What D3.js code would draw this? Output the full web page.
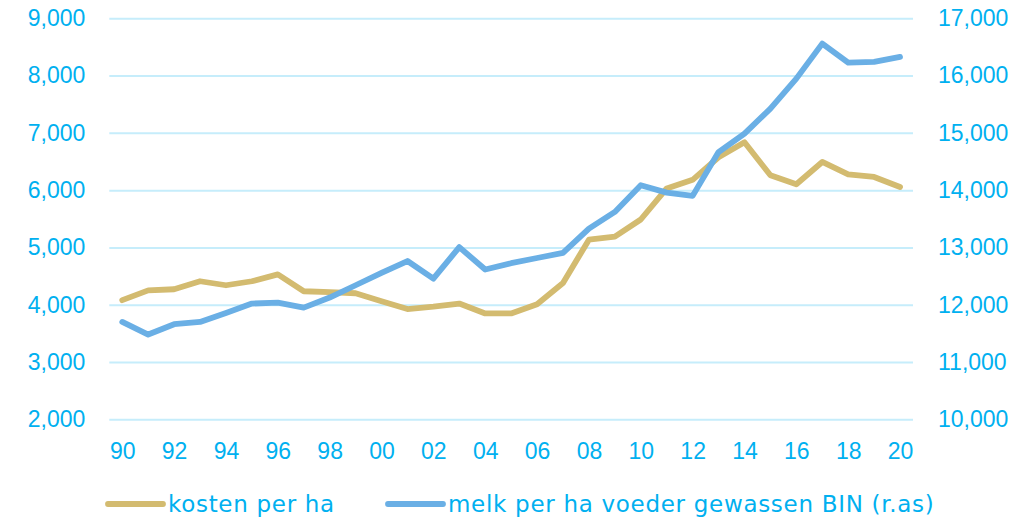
<!DOCTYPE html>
<html>
<head>
<meta charset="utf-8">
<script src="https://cdn.jsdelivr.net/npm/d3@7"></script>
<style>
  body { margin: 0; background: #fff; }
  svg { display: block; font-family: "DejaVu Sans", Verdana, sans-serif; }
  .tick text { fill: #00b0f0; font-size: 23px; }
  .domain { display: none; }
</style>
</head>
<body>
<div id="chart"></div>
<script>
// years 1990 - 2020
var years = [1990, 1991, 1992, 1993, 1994, 1995, 1996, 1997, 1998, 1999,
             2000, 2001, 2002, 2003, 2004, 2005, 2006, 2007, 2008, 2009,
             2010, 2011, 2012, 2013, 2014, 2015, 2016, 2017, 2018, 2019, 2020];

// kosten per ha (left axis)
var kosten = [4080, 4250, 4270, 4410, 4340, 4410, 4530, 4235, 4220, 4200,
              4060, 3925, 3965, 4020, 3848, 3848, 4008, 4380, 5135, 5190,
              5488, 6030, 6180, 6575, 6835, 6260, 6102, 6492, 6275, 6230, 6055];

// melk per ha voeder gewassen BIN (right axis)
var melk = [11700, 11480, 11660, 11700, 11856, 12020, 12037, 11950, 12125, 12340,
            12555, 12763, 12456, 13005, 12614, 12725, 12816, 12904, 13329, 13620,
            14085, 13957, 13900, 14665, 14987, 15424, 15947, 16558, 16227, 16238, 16325];

var leftTicks = [2000, 3000, 4000, 5000, 6000, 7000, 8000, 9000];
var rightTicks = [10000, 11000, 12000, 13000, 14000, 15000, 16000, 17000];
var xTickYears = years.filter(function(d, i) { return i % 2 === 0; });

var svgWidth = 1035;
var svgHeight = 518;

var plot = { left: 109.3, right: 913, top: 18.3, bottom: 419.3 };

var svg = d3.select("#chart")
  .append("svg")
  .attr("width", svgWidth)
  .attr("height", svgHeight);

var x = d3.scalePoint()
  .domain(years)
  .range([plot.left, plot.right])
  .padding(0.5);

var yLeft = d3.scaleLinear()
  .domain([2000, 9000])
  .range([plot.bottom, plot.top]);

var yRight = d3.scaleLinear()
  .domain([10000, 17000])
  .range([plot.bottom, plot.top]);

var fmt = d3.format(",");

// gridlines
svg.append("g")
  .attr("transform", `translate(${plot.left},0)`)
  .call(d3.axisLeft(yLeft).tickValues(leftTicks).tickSize(-(plot.right - plot.left)).tickFormat(""))
  .selectAll(".tick line")
  .attr("stroke", "#c6edfb")
  .attr("stroke-width", 2);

// left axis
svg.append("g")
  .attr("transform", `translate(${plot.left},0)`)
  .call(d3.axisLeft(yLeft).tickValues(leftTicks).tickSize(0).tickPadding(24).tickFormat(fmt));

// right axis
svg.append("g")
  .attr("transform", `translate(${plot.right},0)`)
  .call(d3.axisRight(yRight).tickValues(rightTicks).tickSize(0).tickPadding(25).tickFormat(fmt));

// x axis
svg.append("g")
  .attr("transform", `translate(0,${plot.bottom})`)
  .call(d3.axisBottom(x).tickValues(xTickYears).tickSize(0).tickPadding(23)
    .tickFormat(d => String(d % 100).padStart(2, "0")));

// lines
var kostenLine = d3.line()
  .x((d, i) => x(years[i]))
  .y(d => yLeft(d));

var melkLine = d3.line()
  .x((d, i) => x(years[i]))
  .y(d => yRight(d));

svg.append("path")
  .datum(kosten)
  .attr("d", kostenLine)
  .attr("fill", "none")
  .attr("stroke", "#d3bb70")
  .attr("stroke-width", 5.8)
  .attr("stroke-linejoin", "round")
  .attr("stroke-linecap", "round");

svg.append("path")
  .datum(melk)
  .attr("d", melkLine)
  .attr("fill", "none")
  .attr("stroke", "#6aafe5")
  .attr("stroke-width", 5.8)
  .attr("stroke-linejoin", "round")
  .attr("stroke-linecap", "round");

// legend
var legendItems = [
  { label: "kosten per ha", color: "#d3bb70", x: 108 },
  { label: "melk per ha voeder gewassen BIN (r.as)", color: "#6aafe5", x: 388 }
];

var legend = svg.selectAll(".legend")
  .data(legendItems)
  .enter()
  .append("g")
  .attr("class", "legend")
  .attr("transform", d => `translate(${d.x},504)`);

legend.append("line")
  .attr("x1", 0)
  .attr("x2", 55)
  .attr("stroke", d => d.color)
  .attr("stroke-width", 5.8)
  .attr("stroke-linecap", "round");

legend.append("text")
  .attr("x", 60)
  .attr("y", 8)
  .attr("fill", "#00b0f0")
  .style("font-size", "23px")
  .style("letter-spacing", "0.7px")
  .text(d => d.label);
</script>
</body>
</html>
